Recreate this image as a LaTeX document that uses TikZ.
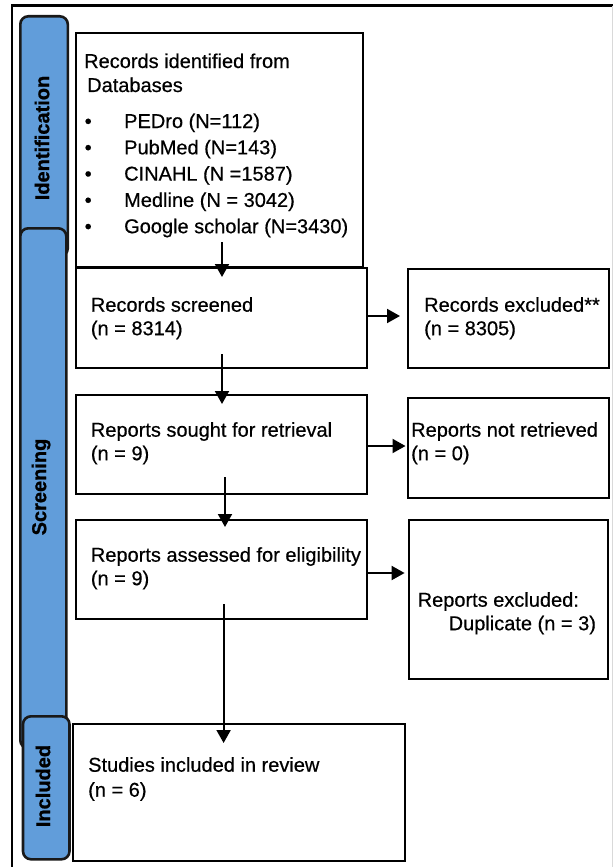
\documentclass[tikz,border=0pt]{standalone}
\usepackage{fontspec}
\setmainfont{Liberation Sans}
\newfontfamily\heavy[RawFeature={embolden=0.5}]{Liberation Sans}
\newfontfamily\tabfont[RawFeature={embolden=1}]{Liberation Sans Bold}
\usetikzlibrary{arrows.meta,calc}
\definecolor{tabblue}{RGB}{97,157,218}
\begin{document}
\begin{tikzpicture}[x=1pt,y=-1pt,
 box/.style={draw=black,line width=2.4pt,anchor=north west,inner sep=0pt,fill=white},
 tab/.style={draw=black!90,line width=2.6pt,fill=tabblue,rounded corners=8pt,anchor=north west,inner sep=0pt},
 txt/.style={anchor=base west,inner sep=0pt,align=left,font=\heavy\fontsize{20}{23.5}\selectfont},
 tablabel/.style={font=\tabfont\fontsize{20}{24}\selectfont,rotate=90,inner sep=0pt},
 arr/.style={line width=2pt,-{Triangle[length=13pt,width=14pt]}}]
\useasboundingbox (0,0) rectangle (613,867);
% outer frame
\draw[line width=2pt] (12,867) -- (12,6);
\draw[line width=3pt] (11,6) -- (613,6);
\draw[line width=1pt,black!15] (612,6) -- (612,867);
% side tabs
\node[tab,minimum width=47.5pt,minimum height=240pt] (idtab) at (19,15) {};
\node[tab,minimum width=46pt,minimum height=520pt] (sctab) at (19,227) {};
\node[tab,minimum width=46.5pt,minimum height=143pt] (intab) at (21.7,715) {};
\node[tablabel] (idlab) at (42,138) {Identification};
\node[tablabel] (sclab) at (41,487) {Screening};
\node[tablabel] (inlab) at (43,786) {Included};
% boxes
\node[box,minimum width=286.5pt,minimum height=234pt] (idbox) at (75,32) {};
\node[box,minimum width=290.5pt,minimum height=100.5pt] (scr) at (75,266.5) {};
\node[box,minimum width=201pt,minimum height=99pt] (exc1) at (406.5,268) {};
\node[box,minimum width=290.5pt,minimum height=99pt] (sought) at (75,394) {};
\node[box,minimum width=201pt,minimum height=100pt] (notret) at (406.5,397) {};
\node[box,minimum width=290.5pt,minimum height=99pt] (assess) at (75,519) {};
\node[box,minimum width=199.5pt,minimum height=159pt] (exc2) at (407.5,519) {};
\node[box,minimum width=331.5pt,minimum height=137pt] (incl) at (72,723) {};
% texts (anchor = baseline of the last line)
\node[txt,font=\heavy\fontsize{20}{24}\selectfont] (idtitle) at (84,92) {Records identified from\\\hspace*{3pt}Databases};
\node[txt,font=\heavy\fontsize{20}{26.3}\selectfont] (idlist) at (84.5,233.2) {%
\makebox[39.5pt][l]{\textbullet}PEDro (N=112)\\
\makebox[39.5pt][l]{\textbullet}PubMed (N=143)\\
\makebox[39.5pt][l]{\textbullet}CINAHL (N =1587)\\
\makebox[39.5pt][l]{\textbullet}Medline (N = 3042)\\
\makebox[39.5pt][l]{\textbullet}Google scholar (N=3430)};
\node[txt] (scrtext) at (90.7,335.2) {Records screened\\(n = 8314)};
\node[txt] (exc1text) at (424,335.2) {Records excluded**\\(n = 8305)};
\node[txt] (soughttext) at (90.7,460.2) {Reports sought for retrieval\\(n = 9)};
\node[txt] (notrettext) at (411,460.2) {Reports not retrieved\\(n = 0)};
\node[txt] (assesstext) at (90.7,585.2) {Reports assessed for eligibility\\(n = 9)};
\node[txt] (exc2text) at (417.5,630.2) {Reports excluded:\\\hspace*{31pt}Duplicate (n = 3)};
\node[txt,font=\heavy\fontsize{20}{25}\selectfont] (incltext) at (88,796.7) {Studies included in review\\(n = 6)};
% arrows
\draw[arr] ($(idbox.south west)+(147,-26)$) -- ($(scr.north west)+(147,10.5)$);
\draw[arr] ($(scr.south west)+(147,-15)$) -- ($(sought.north west)+(147,10)$);
\draw[arr] ($(sought.south west)+(150,-18)$) -- ($(assess.north west)+(150,8)$);
\draw[arr] ($(assess.south west)+(148.6,-16)$) -- ($(incl.north west)+(151.6,20)$);
\draw[arr] ($(scr.north east)+(0,49.5)$) -- ($(exc1.north west)+(-6.5,48)$);
\draw[arr] ($(sought.north east)+(0,52)$) -- ($(notret.north west)+(-1,49)$);
\draw[arr] ($(assess.north east)+(0,54)$) -- ($(exc2.north west)+(-2.9,54)$);
\end{tikzpicture}
\end{document}
